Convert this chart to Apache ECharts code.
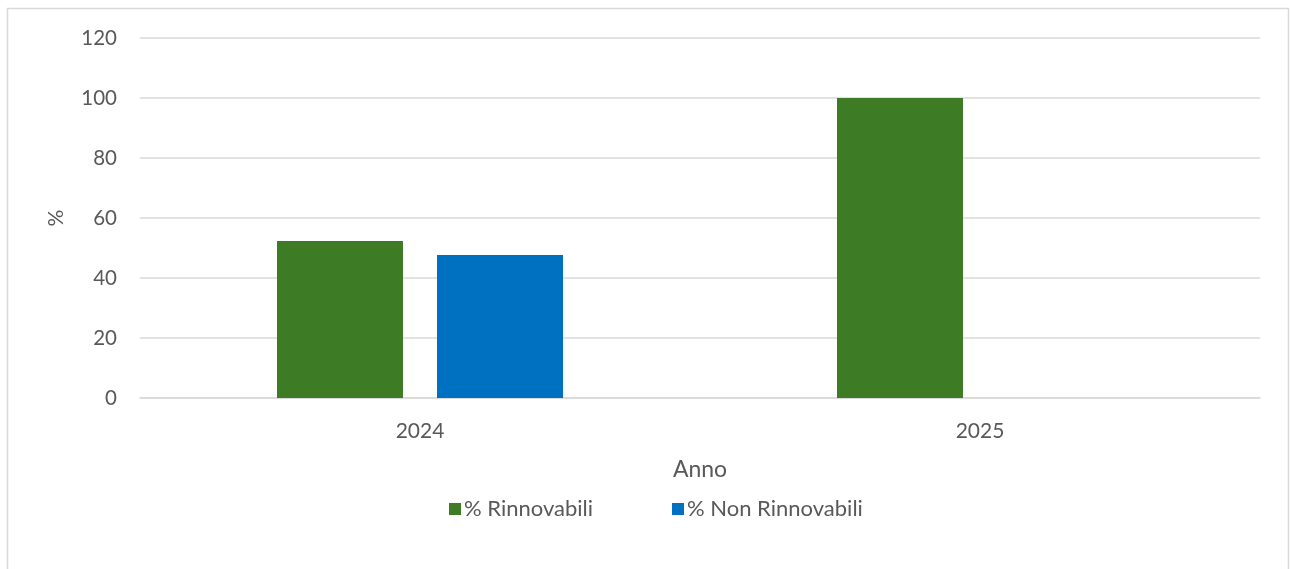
<!DOCTYPE html>
<html>
<head>
<meta charset="utf-8">
<script src="https://cdn.jsdelivr.net/npm/echarts@6/dist/echarts.min.js"></script>
<style>
html,body{margin:0;padding:0;background:#fff;}
#c{width:1290px;height:569px;}
</style>
</head>
<body>
<div id="c"></div>
<script>
const categories = ['2024', '2025'];
const rinnovabili = [52.3, 100];
const nonRinnovabili = [47.7, 0];
const yTicks = [0, 20, 40, 60, 80, 100, 120];

const FONT = 'Lato, "Liberation Sans", sans-serif';
const chart = echarts.init(document.getElementById('c'));
chart.setOption({
  backgroundColor: '#fff',
  animation: false,
  textStyle: { fontFamily: FONT },
  graphic: [{
    type: 'rect',
    shape: { x: 7.5, y: 8.5, width: 1281, height: 580 },
    style: { fill: 'none', stroke: '#d9d9d9', lineWidth: 1.5 },
    silent: true
  }],
  grid: { left: 140, right: 30, top: 38, bottom: 171 },
  legend: {
    left: 444, top: 493,
    itemWidth: 12, itemHeight: 12, itemGap: 79,
    icon: 'rect',
    textStyle: { fontSize: 22, color: '#595959', fontFamily: FONT, padding: [0, 0, 0, -2] },
    data: ['% Rinnovabili', '% Non Rinnovabili']
  },
  xAxis: {
    type: 'category',
    data: categories,
    name: 'Anno',
    nameLocation: 'middle',
    nameGap: 60,
    nameTextStyle: { fontSize: 23, color: '#595959', fontFamily: FONT },
    axisLine: { lineStyle: { color: '#d9d9d9', width: 1.5 } },
    axisTick: { show: false },
    axisLabel: { fontSize: 21, color: '#595959', margin: 23, fontFamily: FONT }
  },
  yAxis: {
    type: 'value',
    min: yTicks[0], max: yTicks[yTicks.length - 1], interval: 20,
    name: '%',
    nameLocation: 'middle',
    nameGap: 73,
    nameRotate: 90,
    nameTextStyle: { fontSize: 21, color: '#595959', fontFamily: FONT },
    axisLine: { show: false },
    axisTick: { show: false },
    axisLabel: { fontSize: 20.5, color: '#595959', margin: 23, fontFamily: FONT },
    splitLine: { lineStyle: { color: '#d9d9d9', width: 1.5 } }
  },
  series: [
    { name: '% Rinnovabili', type: 'bar', data: rinnovabili, barWidth: 126, barGap: '27%',
      itemStyle: { color: '#3d7c24' } },
    { name: '% Non Rinnovabili', type: 'bar', data: nonRinnovabili, barWidth: 126,
      itemStyle: { color: '#0070c0' } }
  ]
});
</script>
</body>
</html>
